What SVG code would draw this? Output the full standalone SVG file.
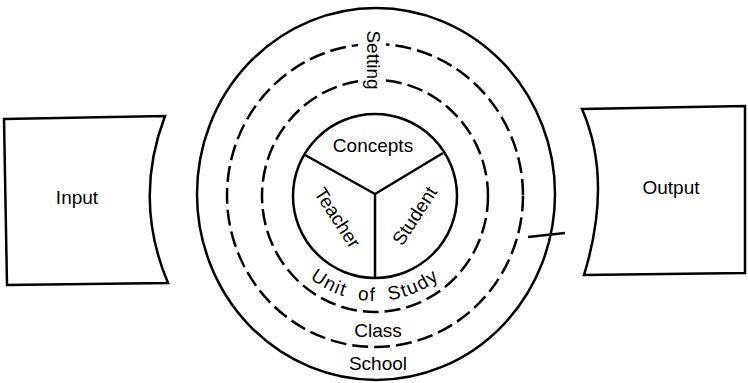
<svg xmlns="http://www.w3.org/2000/svg" width="748" height="383" viewBox="0 0 748 383">
<style>
.ln{fill:none;stroke:#000;stroke-width:2.5}
.ds{fill:none;stroke:#000;stroke-width:2.5;stroke-dasharray:16 6}
.t{font-family:"Liberation Sans",Arial,sans-serif;font-size:19px;fill:#000}
</style>
<rect width="748" height="383" fill="#fff"/>
<g id="input">
<path class="ln" d="M4 119 L165 116 Q133 200 168 283 L7 285 Z"/>
<text class="t" x="77" y="204" text-anchor="middle">Input</text>
</g>
<g id="output">
<path class="ln" d="M582 109 L745 106 L745 273 L584 275 Q613 180 582 109 Z"/>
<text class="t" x="671" y="194" text-anchor="middle">Output</text>
</g>
<g id="school">
<ellipse class="ln" cx="376" cy="194" rx="179" ry="186"/>
<text class="t" x="378" y="370" text-anchor="middle">School</text>
</g>
<g id="class">
<ellipse class="ds" cx="375" cy="195.5" rx="148" ry="151.5"/>
<text class="t" x="378" y="337" text-anchor="middle">Class</text>
</g>
<g id="unit-of-study">
<ellipse class="ds" cx="375" cy="196" rx="113" ry="116"/>
<path id="arcU" d="M270 196 A105 105 0 0 0 480 196" fill="none"/>
<text class="t" letter-spacing="1.5" word-spacing="6"><textPath href="#arcU" startOffset="50%" text-anchor="middle">Unit of Study</textPath></text>
</g>
<g id="setting">
<rect x="358" y="30" width="28" height="62" fill="#fff"/>
<text class="t" transform="translate(367 60) rotate(90)" text-anchor="middle">Setting</text>
</g>
<g id="core">
<ellipse class="ln" cx="375" cy="196" rx="82" ry="82"/>
</g>
<g id="connectors">
<path class="ln" d="M375 194 L305 155 M375 194 L443 153 M375 194 L375 278"/>
<path class="ln" d="M528 237 L565 233"/>
</g>
<g id="concepts"><text class="t" x="373" y="152" text-anchor="middle">Concepts</text></g>
<g id="teacher"><text class="t" transform="translate(337 218) rotate(57)" x="0" y="6" text-anchor="middle">Teacher</text></g>
<g id="student"><text class="t" transform="translate(415 216) rotate(-57)" x="0" y="6" text-anchor="middle">Student</text></g>
</svg>
